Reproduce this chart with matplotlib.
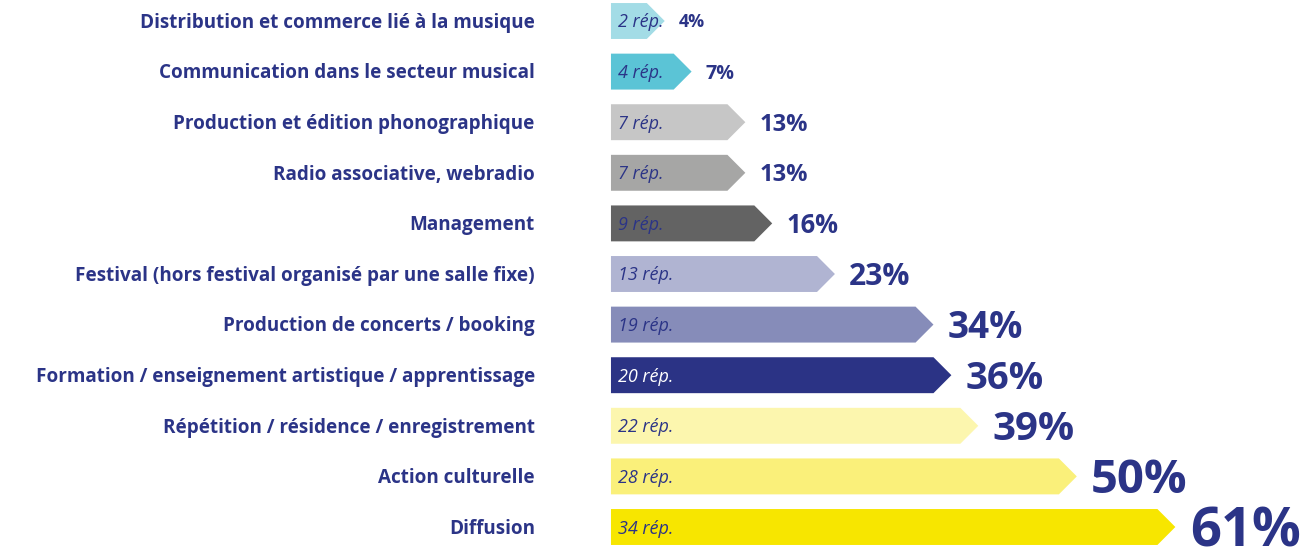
import matplotlib
matplotlib.use('Agg')
import matplotlib.pyplot as plt
from matplotlib.patches import Polygon

categories = [
    'Distribution et commerce lié à la musique',
    'Communication dans le secteur musical',
    'Production et édition phonographique',
    'Radio associative, webradio',
    'Management',
    'Festival (hors festival organisé par une salle fixe)',
    'Production de concerts / booking',
    'Formation / enseignement artistique / apprentissage',
    'Répétition / résidence / enregistrement',
    'Action culturelle',
    'Diffusion',
]
responses = [2, 4, 7, 7, 9, 13, 19, 20, 22, 28, 34]
percents = [4, 7, 13, 13, 16, 23, 34, 36, 39, 50, 61]
colors = ['#a3dce6', '#5bc4d6', '#c6c6c6', '#a6a6a5', '#636363', '#b0b4d2',
          '#868cb9', '#2b3385', '#fcf6ae', '#faf07a', '#f7e600']

NAVY = '#2b3487'
plt.rcParams['font.family'] = ['Open Sans', 'DejaVu Sans']

fig = plt.figure(figsize=(13.16, 5.48), dpi=100)
ax = fig.add_axes([0, 0, 1, 1])
ax.set_xlim(-68.2, 78.7)
ax.set_ylim(10.415, -0.415)
ax.axis('off')

h = 0.71
tip = 2.0
for i, (cat, n, p, c) in enumerate(zip(categories, responses, percents, colors)):
    # arrow shaped bar: body up to the value, then a pointed tip
    ax.add_patch(Polygon([(0, i - h / 2), (p, i - h / 2), (p + tip, i),
                          (p, i + h / 2), (0, i + h / 2)],
                         closed=True, facecolor=c, linewidth=0))
    txt_col = 'white' if c == '#2b3385' else NAVY
    ax.annotate(f'{n} rép.', xy=(0.75, i), xytext=(0, -0.36 * 13),
                textcoords='offset points', color=txt_col, fontsize=13,
                style='italic', va='baseline', ha='left')
    ax.annotate(cat, xy=(-8.5, i), xytext=(0, -0.36 * 13.6),
                textcoords='offset points', color=NAVY, fontsize=13.6,
                fontweight='bold', va='baseline', ha='right')
    fs = 11 + 0.46 * p
    ax.annotate(f'{p}%', xy=(p + tip + 1.6, i), xytext=(0, -0.36 * fs),
                textcoords='offset points', color=NAVY, fontsize=fs,
                fontweight='bold', va='baseline', ha='left')

fig.savefig('out.png', dpi=100)
